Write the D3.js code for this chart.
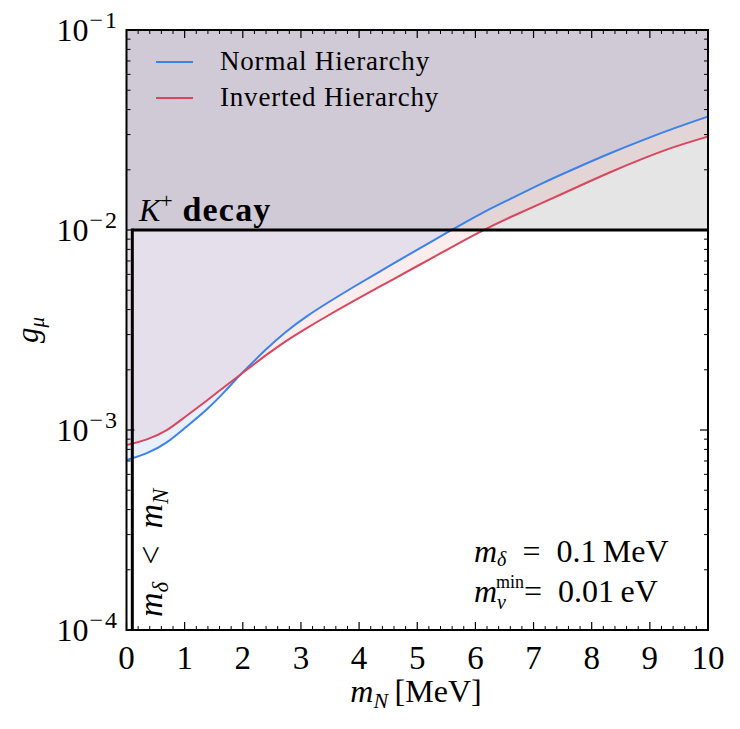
<!DOCTYPE html>
<html><head><meta charset="utf-8">
<script src="https://cdn.jsdelivr.net/npm/d3@7"></script>
<style>body{margin:0;background:#fff}svg{display:block}text{font-family:"Liberation Serif","Times New Roman",serif;fill:#000}</style>
</head><body><svg id="c" width="740" height="729"></svg>
<script>
// ---- data ----
const mN = [0, 0.35, 0.7, 1.0, 1.4, 1.7, 1.95, 2.4, 2.75, 3.1, 3.45, 3.9, 4.5, 5.05, 5.5, 6.1, 6.6, 7.15, 7.75, 8.3, 8.9, 9.45, 10];
const gNormal = [7.08e-4, 7.59e-4, 8.61e-4, 1.023e-3, 1.274e-3, 1.567e-3, 1.884e-3, 2.541e-3, 3.126e-3, 3.715e-3, 4.315e-3, 5.188e-3, 6.566e-3, 8.128e-3, 9.66e-3, 1.216e-2, 1.429e-2, 1.718e-2, 2.054e-2, 2.413e-2, 2.835e-2, 3.255e-2, 3.694e-2];
const gInverted = [8.41e-4, 8.91e-4, 9.89e-4, 1.161e-3, 1.413e-3, 1.660e-3, 1.884e-3, 2.371e-3, 2.802e-3, 3.236e-3, 3.715e-3, 4.416e-3, 5.495e-3, 6.722e-3, 7.943e-3, 9.886e-3, 1.161e-2, 1.365e-2, 1.641e-2, 1.939e-2, 2.291e-2, 2.630e-2, 2.934e-2];
const seriesNames = ["Normal Hierarchy", "Inverted Hierarchy"];
const kDecayLimit = 1e-2;
const mDelta = 0.1;
const xTicks = [0,1,2,3,4,5,6,7,8,9,10];
const yTickExps = [-1,-2,-3,-4];

// ---- layout ----
const L = 126.5, R = 708, T = 30, B = 630;
const x = d3.scaleLinear().domain([0,10]).range([L,R]);
const y = d3.scaleLog().domain([1e-4,1e-1]).range([B,T]);
const svg = d3.select("#c");
const blue = "#3b82ea", red = "#d9475c";

svg.append("clipPath").attr("id","clip").append("rect").attr("x",L).attr("y",T).attr("width",R-L).attr("height",B-T);
const g = svg.append("g").attr("clip-path","url(#clip)");

const nData = mN.map((m,i)=>({m, v:gNormal[i]}));
const iData = mN.map((m,i)=>({m, v:gInverted[i]}));
const curve = d3.curveBasis;

// K+ decay excluded region
g.append("rect").attr("x",x(0)).attr("y",y(1e-1)).attr("width",x(10)-x(0)).attr("height",y(kDecayLimit)-y(1e-1))
  .attr("fill","rgba(0,0,0,0.1)");

const areaAbove = d3.area().x(d=>x(d.m)).y0(y(1e-1)).y1(d=>y(d.v)).curve(curve);
g.append("path").datum(nData).attr("d",areaAbove).attr("fill",blue).attr("fill-opacity",0.12);
g.append("path").datum(iData).attr("d",areaAbove).attr("fill",red).attr("fill-opacity",0.1);

const line = d3.line().x(d=>x(d.m)).y(d=>y(d.v)).curve(curve);
g.append("path").datum(nData).attr("d",line).attr("fill","none").attr("stroke",blue).attr("stroke-width",2);
g.append("path").datum(iData).attr("d",line).attr("fill","none").attr("stroke",red).attr("stroke-width",2);

// thick black boundary lines
svg.append("line").attr("x1",x(mDelta)).attr("x2",x(10)).attr("y1",y(kDecayLimit)).attr("y2",y(kDecayLimit)).attr("stroke","#000").attr("stroke-width",3);
svg.append("line").attr("x1",x(mDelta)).attr("x2",x(mDelta)).attr("y1",y(kDecayLimit)-1.5).attr("y2",y(1e-4)).attr("stroke","#000").attr("stroke-width",3);

// ---- ticks ----
const tk = svg.append("g").attr("stroke","#000");
const xMinor = d3.range(0,10.001,0.2).filter(v=>Math.abs(v-Math.round(v))>1e-6);
xTicks.forEach(v=>{
  tk.append("line").attr("x1",x(v)).attr("x2",x(v)).attr("y1",B).attr("y2",B-8).attr("stroke-width",1.2);
  tk.append("line").attr("x1",x(v)).attr("x2",x(v)).attr("y1",T).attr("y2",T+8).attr("stroke-width",1.2);
});
xMinor.forEach(v=>{
  tk.append("line").attr("x1",x(v)).attr("x2",x(v)).attr("y1",B).attr("y2",B-4).attr("stroke-width",1);
  tk.append("line").attr("x1",x(v)).attr("x2",x(v)).attr("y1",T).attr("y2",T+4).attr("stroke-width",1);
});
yTickExps.forEach(e=>{
  const yy = y(Math.pow(10,e));
  tk.append("line").attr("x1",L).attr("x2",L+8).attr("y1",yy).attr("y2",yy).attr("stroke-width",1.2);
  tk.append("line").attr("x1",R).attr("x2",R-8).attr("y1",yy).attr("y2",yy).attr("stroke-width",1.2);
});
[-4,-3,-2].forEach(e=>{
  for(let k=2;k<=9;k++){
    const yy = y(k*Math.pow(10,e));
    tk.append("line").attr("x1",L).attr("x2",L+4).attr("y1",yy).attr("y2",yy).attr("stroke-width",1);
    tk.append("line").attr("x1",R).attr("x2",R-4).attr("y1",yy).attr("y2",yy).attr("stroke-width",1);
  }
});

// spines
svg.append("rect").attr("x",L).attr("y",T).attr("width",R-L).attr("height",B-T).attr("fill","none").attr("stroke","#000").attr("stroke-width",2);

// tick labels
xTicks.forEach(v=>{
  svg.append("text").attr("x",x(v)).attr("y",669).attr("text-anchor","middle").attr("font-size",33).text(v);
});
yTickExps.forEach(e=>{
  const t = svg.append("text").attr("x",119).attr("y",y(Math.pow(10,e))+11).attr("text-anchor","end").attr("font-size",32);
  t.append("tspan").text("10");
  t.append("tspan").attr("font-size",24).attr("letter-spacing",2).attr("dx",1).attr("dy",-13).text("\u2212"+(-e));
});

// axis labels
const xl = svg.append("text").attr("x",416).attr("y",702).attr("text-anchor","middle").attr("font-size",32);
xl.append("tspan").attr("font-style","italic").text("m");
xl.append("tspan").attr("font-style","italic").attr("font-size",22).attr("dy",6).text("N");
xl.append("tspan").attr("dy",-6).text("\u2009[MeV]");

const yl = svg.append("text").attr("transform","translate(38,330) rotate(-90)").attr("text-anchor","middle").attr("font-size",31);
yl.append("tspan").attr("font-style","italic").text("g");
yl.append("tspan").attr("font-style","italic").attr("font-size",21).attr("dy",6).text("\u03bc");

// legend
[[blue,seriesNames[0],62],[red,seriesNames[1],98]].forEach(([c,n,yy])=>{
  svg.append("line").attr("x1",156).attr("x2",193).attr("y1",yy).attr("y2",yy).attr("stroke",c).attr("stroke-width",2);
  svg.append("text").attr("x",220).attr("y",yy+8).attr("font-size",27).attr("letter-spacing",0.8).text(n);
});

// K+ decay label
const kl = svg.append("text").attr("x",139).attr("y",221).attr("font-size",32);
kl.append("tspan").attr("font-style","italic").text("K");
kl.append("tspan").attr("font-size",22).attr("dy",-13).text("+");
kl.append("tspan").attr("dy",13).attr("font-weight","bold").attr("font-size",34).attr("letter-spacing",1.2).text(" decay");

// vertical label m_delta < m_N
const vl = svg.append("text").attr("transform","translate(162,617) rotate(-90)").attr("font-size",34);
vl.append("tspan").attr("font-style","italic").text("m");
vl.append("tspan").attr("font-style","italic").attr("font-size",23).attr("dy",6).text("\u03b4");
vl.append("tspan").attr("dy",-6).text("\u2002<\u2002");
vl.append("tspan").attr("font-style","italic").text("m");
vl.append("tspan").attr("font-style","italic").attr("font-size",23).attr("dy",6).text("N");

// parameters annotation
const a1 = svg.append("text").attr("x",474).attr("y",562).attr("font-size",32);
a1.append("tspan").attr("font-style","italic").text("m");
a1.append("tspan").attr("font-style","italic").attr("font-size",20).attr("dy",4).text("\u03b4");
a1.append("tspan").attr("dy",-4).text("\u2002=\u20020.1\u2009MeV");
const a2 = svg.append("text").attr("x",474).attr("y",602).attr("font-size",32);
a2.append("tspan").attr("font-style","italic").text("m");
a2.append("tspan").attr("font-style","italic").attr("font-size",20).attr("dy",7).text("\u03bd");
a2.append("tspan").attr("font-size",18).attr("dx",-10).attr("dy",-21).text("min");
a2.append("tspan").attr("dy",14).text("=\u20020.01\u2009eV");
</script></body></html>
